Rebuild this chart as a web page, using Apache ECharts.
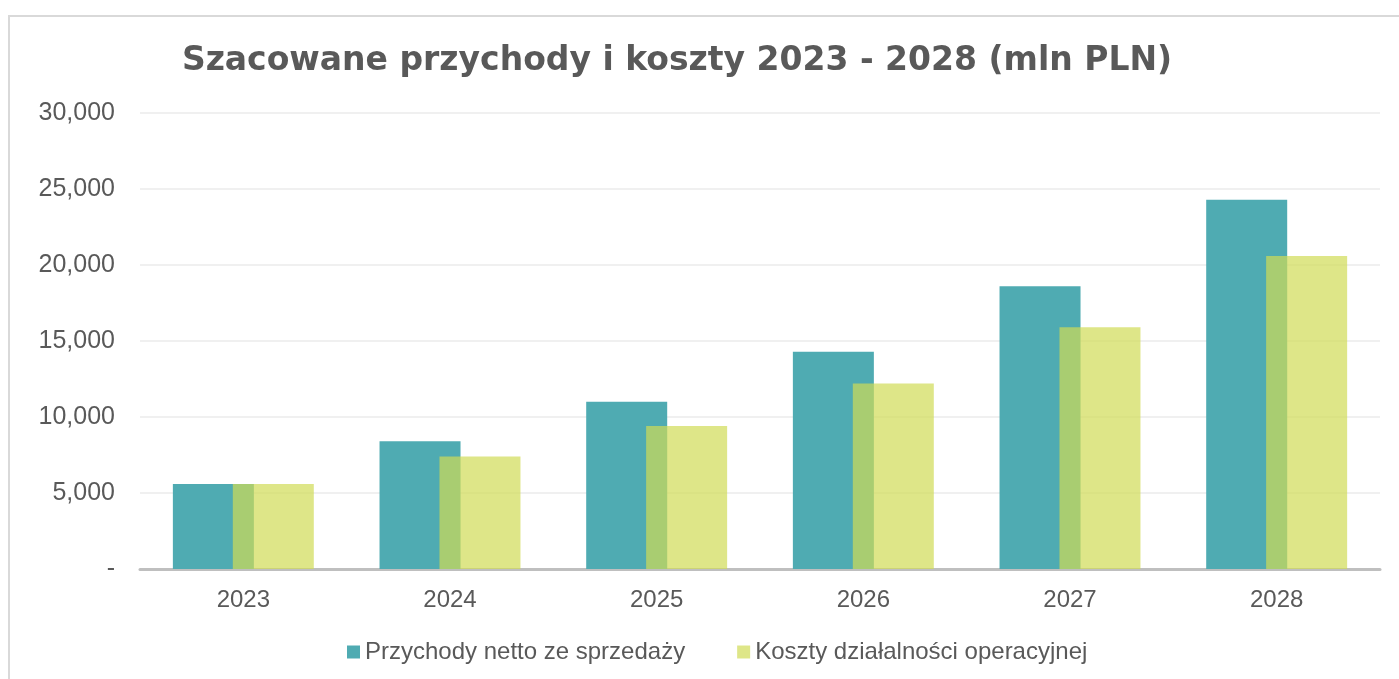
<!DOCTYPE html>
<html>
<head>
<meta charset="utf-8">
<script src="https://cdn.jsdelivr.net/npm/echarts@6/dist/echarts.min.js"></script>
<style>
  html, body { margin: 0; padding: 0; background: #ffffff; overflow: hidden; }
  .frame {
    position: absolute; left: 8px; top: 15px;
    width: 1420px; height: 700px;
    border: 2px solid #d9d9d9; box-sizing: border-box;
  }
  #main { position: absolute; left: 0; top: 0; width: 1399px; height: 679px; }
</style>
</head>
<body>
<div class="frame"></div>
<div id="main"></div>
<script>
const years = ["2023", "2024", "2025", "2026", "2027", "2028"];
const revenue = [5600, 8400, 11000, 14300, 18600, 24300];
const costs = [5600, 7400, 9400, 12200, 15900, 20600];
const seriesNames = ["Przychody netto ze sprzedaży", "Koszty działalności operacyjnej"];

let myChart = echarts.init(document.getElementById("main"));
let option = {
  animation: false,
  title: {
    text: "Szacowane przychody i koszty 2023 - 2028 (mln PLN)",
    left: 672,
    top: 40,
    textAlign: "center",
    textStyle: {
      color: "#595959",
      fontFamily: "DejaVu Sans",
      fontWeight: "bold",
      fontSize: 33
    }
  },
  legend: {
    bottom: 10,
    left: 342,
    itemWidth: 13,
    itemHeight: 13,
    itemGap: 52,
    icon: "rect",
    textStyle: {
      color: "#595959",
      fontFamily: "Liberation Sans",
      fontSize: 24
    },
    data: seriesNames
  },
  grid: {
    left: 140,
    right: 19,
    top: 113,
    bottom: 110
  },
  xAxis: {
    type: "category",
    data: years,
    axisLine: { lineStyle: { color: "#bfbfbf", width: 3 } },
    axisTick: { show: false },
    axisLabel: {
      color: "#595959",
      fontFamily: "Liberation Sans",
      fontSize: 24,
      margin: 19
    }
  },
  yAxis: {
    type: "value",
    min: 0,
    max: 30000,
    interval: 5000,
    axisLine: { show: false },
    axisTick: { show: false },
    splitLine: { lineStyle: { color: "#f0f0f0", width: 2 } },
    axisLabel: {
      color: "#595959",
      fontFamily: "Liberation Sans",
      fontSize: 25,
      margin: 25,
      formatter: function (v) {
        return v === 0 ? "-" : v.toLocaleString("en-US");
      }
    }
  },
  series: [
    {
      name: seriesNames[0],
      type: "bar",
      data: revenue,
      barWidth: 81,
      barGap: "-26%",
      itemStyle: { color: "#4fabb2" }
    },
    {
      name: seriesNames[1],
      type: "bar",
      data: costs,
      barWidth: 81,
      itemStyle: { color: "#d0db55", opacity: 0.7 }
    }
  ]
};
myChart.setOption(option);
</script>
</body>
</html>
